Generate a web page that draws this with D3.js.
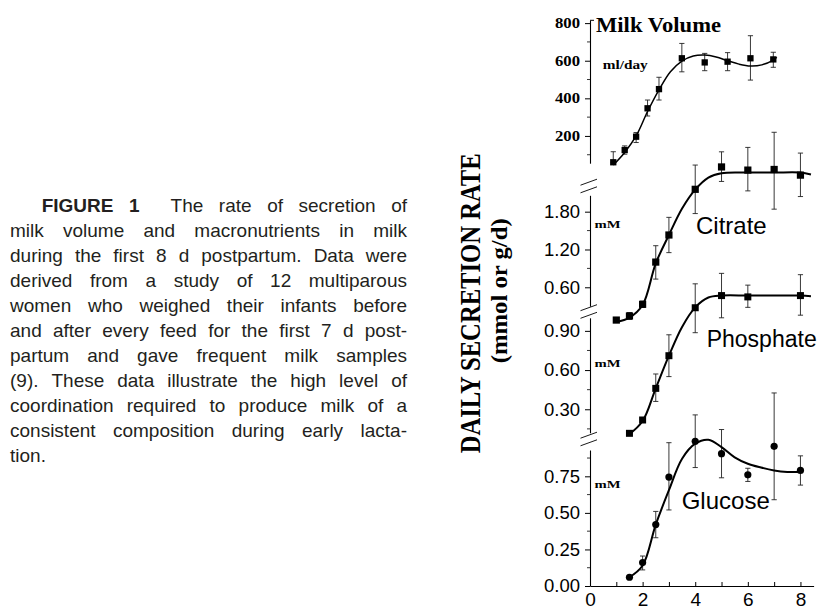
<!DOCTYPE html>
<html>
<head>
<meta charset="utf-8">
<script src="https://cdn.jsdelivr.net/npm/d3@7"></script>
<style>
  body { margin: 0; background: #fff; }
  svg { display: block; }
</style>
</head>
<body>
<svg id="chart" width="817" height="610"></svg>
<script>
// ---- data (day postpartum vs secretion) ----
var milkDays = [1, 1.5, 2, 2.5, 3, 4, 5, 6, 7, 8];
var milkVol  = [60, 125, 196, 347, 449, 613, 591, 595, 613, 607];
var milkLo   = [58, 103, 165, 306, 391, 541, 547, 547, 497, 565];
var milkHi   = [116, 147, 218, 391, 512, 692, 639, 643, 733, 645];
var milkFitX = [1, 1.5, 2, 2.5, 3, 3.5, 4, 4.5, 5, 5.5, 6, 6.5, 7, 7.5, 8, 8.15];
var milkFitY = [45, 112, 200, 330, 445, 541, 598, 625, 630, 620, 600, 582, 572, 578, 603, 618];

var citDays = [1, 1.5, 2, 2.5, 3, 4, 5, 6, 7, 8];
var citVal  = [0.08, 0.145, 0.33, 1.0, 1.43, 2.155, 2.51, 2.46, 2.47, 2.38];
var citLo   = [0.08, 0.09, 0.28, 0.73, 1.15, 1.77, 2.28, 2.13, 1.84, 2.04];
var citHi   = [0.08, 0.2, 0.38, 1.26, 1.71, 2.54, 2.75, 2.82, 3.06, 2.73];
var citFitX = [1, 1.5, 2, 2.5, 3, 3.5, 4, 4.5, 5, 6, 7, 8, 8.4];
var citFitY = [0.05, 0.12, 0.32, 0.98, 1.43, 1.85, 2.15, 2.34, 2.41, 2.42, 2.42, 2.42, 2.39];

var phoDays = [1.5, 2, 2.5, 3, 4, 5, 6, 8];
var phoVal  = [0.116, 0.218, 0.46, 0.71, 1.077, 1.17, 1.16, 1.17];
var phoLo   = [0.116, 0.218, 0.36, 0.55, 0.886, 1.0, 1.08, 1.02];
var phoHi   = [0.116, 0.218, 0.57, 0.87, 1.26, 1.34, 1.25, 1.33];
var phoFitX = [1.5, 2, 2.5, 3, 3.5, 4, 4.5, 5, 6, 7, 8, 8.4];
var phoFitY = [0.11, 0.21, 0.46, 0.71, 0.93, 1.08, 1.155, 1.17, 1.17, 1.17, 1.17, 1.165];

var gluDays = [1.5, 2, 2.5, 3, 4, 5, 6, 7, 8];
var gluVal  = [0.06, 0.16, 0.42, 0.745, 0.99, 0.905, 0.76, 0.955, 0.79];
var gluLo   = [0.06, 0.11, 0.33, 0.52, 0.81, 0.74, 0.715, 0.59, 0.69];
var gluHi   = [0.06, 0.205, 0.51, 0.98, 1.17, 1.07, 0.805, 1.32, 0.89];
var gluFitX = [1.5, 2, 2.5, 3, 3.5, 4, 4.5, 5, 5.5, 6, 6.5, 7, 7.5, 8];
var gluFitY = [0.06, 0.14, 0.42, 0.655, 0.87, 0.973, 1.0, 0.95, 0.88, 0.836, 0.81, 0.79, 0.78, 0.78];

// tick labels
var dayTicks   = [0, 1, 2, 3, 4, 5, 6, 7, 8];
var milkTicks  = [200, 400, 600, 800];
var milkMinor  = [100, 300, 500, 700];
var citTicks   = [0.6, 1.2, 1.8];
var citMinor   = [0.9, 1.5];
var phoTicks   = [0.3, 0.6, 0.9];
var phoMinor   = [0.15, 0.45, 0.75];
var gluTicks   = [0, 0.25, 0.5, 0.75];
var gluMinor   = [0.125, 0.375, 0.625, 0.875];

var captionLines = [
  "*FIGURE *1 The rate of secretion of",
  "milk volume and macronutrients in milk",
  "during the first 8 d postpartum. Data were",
  "derived from a study of 12 multiparous",
  "women who weighed their infants before",
  "and after every feed for the first 7 d post-",
  "partum and gave frequent milk samples",
  "(9). These data illustrate the high level of",
  "coordination required to produce milk of a",
  "consistent composition during early lacta-",
  "tion."
];

var serif = "'Liberation Serif','Times New Roman',serif";
var sans = "'Liberation Sans',Arial,Helvetica,sans-serif";

var svg = d3.select("#chart");

// ---- scales ----
var x = d3.scaleLinear().domain([0, 8.5]).range([590, 813.6]);
var xMilk = d3.scaleLinear().domain([0, 8]).range([590.4, 773.3]); // the volume panel is drawn narrower
var yMilk = d3.scaleLinear().domain([55, 815]).range([163.2, 20.3]);
var yCit = d3.scaleLinear().domain([0.3, 2.06]).range([306.2, 195.3]);
var yPho = d3.scaleLinear().domain([0.12, 1.0]).range([432.8, 317.8]);
var yGlu = d3.scaleLinear().domain([0, 0.93]).range([586, 450]);

// ---- caption (justified) ----
var cap = svg.append("g").attr("font-family", sans).attr("font-size", 19).attr("fill", "#231f20");
captionLines.forEach(function(line, i) {
  var x0 = i == 0 ? 41.7 : 10, x1 = 407;
  var words = line.split(" ");
  var t = cap.append("text").attr("y", 212 + i * 25);
  var spans = words.map(function(w) {
    var bold = w.charAt(0) == "*";
    return t.append("tspan").attr("font-weight", bold ? "bold" : null).text(bold ? w.slice(1) : w);
  });
  var widths = spans.map(function(s) { return s.node().getComputedTextLength(); });
  var weights = words.slice(1).map(function(w, j) { return j == 1 && i == 0 ? 2 : 1; });
  var last = i == captionLines.length - 1;
  var gap = last ? 5.3 : (x1 - x0 - d3.sum(widths)) / d3.sum(weights);
  var cx = x0;
  spans.forEach(function(s, j) {
    s.attr("x", cx);
    cx += widths[j] + (j < weights.length ? gap * weights[j] : 0);
  });
});

// ---- y title ----
svg.append("text")
  .attr("transform", "translate(479.5,303.3) rotate(-90)")
  .attr("text-anchor", "middle")
  .attr("font-family", serif).attr("font-weight", "bold").attr("font-size", 29)
  .attr("textLength", 300).attr("lengthAdjust", "spacingAndGlyphs")
  .text("DAILY SECRETION RATE");
svg.append("text")
  .attr("transform", "translate(507,290.8) rotate(-90)")
  .attr("text-anchor", "middle")
  .attr("font-family", serif).attr("font-weight", "bold").attr("font-size", 23)
  .attr("textLength", 145).attr("lengthAdjust", "spacingAndGlyphs")
  .text("(mmol or g/d)");

// ---- axes ----
function yAxis(scale, major, minor, fmt, font, size, bold) {
  var g = svg.append("g").attr("transform", "translate(590,0)");
  g.call(d3.axisLeft(scale).tickValues(major).tickFormat(fmt)
    .tickSizeInner(5).tickSizeOuter(0).tickPadding(5));
  g.attr("font-family", font).attr("font-size", size).attr("font-weight", bold ? "bold" : null);
  g.select(".domain").attr("stroke", "#000").attr("stroke-width", 1.1);
  g.selectAll(".tick line").attr("stroke", "#000");
  g.selectAll(".tick text").attr("fill", "#000");
  g.selectAll(".minor").data(minor).enter().append("line")
    .attr("x1", 0).attr("x2", -3)
    .attr("y1", function(d) { return scale(d); }).attr("y2", function(d) { return scale(d); })
    .attr("stroke", "#000").attr("stroke-width", 0.8);
  return g;
}

var gm = yAxis(yMilk, milkTicks, milkMinor, d3.format("d"), serif, 14, true);
gm.selectAll(".tick text").attr("textLength", 25).attr("lengthAdjust", "spacingAndGlyphs");
gm.append("line").attr("x1", 0).attr("x2", 4).attr("y1", yMilk(815)).attr("y2", yMilk(815)).attr("stroke", "#000");
yAxis(yCit, citTicks, citMinor, d3.format(".2f"), sans, 18.5, false);
yAxis(yPho, phoTicks, phoMinor, d3.format(".2f"), sans, 18.5, false);
yAxis(yGlu, gluTicks, gluMinor, d3.format(".2f"), sans, 18.5, false);

var gx = svg.append("g").attr("transform", "translate(0,586)");
gx.call(d3.axisBottom(x).tickValues(dayTicks)
  .tickFormat(function(d) { return d % 2 ? "" : d; })
  .tickSizeInner(-4).tickSizeOuter(0).tickPadding(7));
gx.attr("font-family", sans).attr("font-size", 19);
gx.select(".domain").attr("stroke", "#000").attr("stroke-width", 1.1);
gx.selectAll(".tick line").attr("stroke", "#000");
gx.selectAll(".tick text").attr("fill", "#000");

// axis breaks "//"
[186, 311.5, 439].forEach(function(cy) {
  [-3.8, 3.8].forEach(function(o) {
    svg.append("line")
      .attr("x1", 580.5).attr("y1", cy + o + 3)
      .attr("x2", 597).attr("y2", cy + o - 3)
      .attr("stroke", "#000").attr("stroke-width", 0.9);
  });
});

// ---- panels ----
function panel(xs, ys, days, vals, lo, hi, fitX, fitY, shape, size, lw) {
  var g = svg.append("g");
  var pts = days.map(function(d, i) { return { d: d, v: vals[i], lo: lo[i], hi: hi[i] }; });
  var fit = fitX.map(function(d, i) { return [d, fitY[i]]; });

  // error bars
  var eb = g.selectAll(".eb").data(pts.filter(function(p) { return p.hi > p.lo; })).enter().append("g");
  eb.append("line")
    .attr("x1", function(p) { return xs(p.d); }).attr("x2", function(p) { return xs(p.d); })
    .attr("y1", function(p) { return ys(p.lo); }).attr("y2", function(p) { return ys(p.hi); });
  eb.append("line")
    .attr("x1", function(p) { return xs(p.d) - 2.6; }).attr("x2", function(p) { return xs(p.d) + 2.6; })
    .attr("y1", function(p) { return ys(p.hi); }).attr("y2", function(p) { return ys(p.hi); });
  eb.append("line")
    .attr("x1", function(p) { return xs(p.d) - 2.6; }).attr("x2", function(p) { return xs(p.d) + 2.6; })
    .attr("y1", function(p) { return ys(p.lo); }).attr("y2", function(p) { return ys(p.lo); });
  eb.selectAll("line").attr("stroke", "#222").attr("stroke-width", 0.9);

  g.append("path")
    .datum(fit)
    .attr("d", d3.line().x(function(d) { return xs(d[0]); }).y(function(d) { return ys(d[1]); })
      .curve(d3.curveCatmullRom.alpha(0.5)))
    .attr("fill", "none").attr("stroke", "#000").attr("stroke-width", lw);

  if (shape == "circle") {
    g.selectAll(".pt").data(pts).enter().append("circle")
      .attr("cx", function(p) { return xs(p.d); })
      .attr("cy", function(p) { return ys(p.v); })
      .attr("r", size / 2).attr("fill", "#000");
  } else {
    g.selectAll(".pt").data(pts).enter().append("rect")
      .attr("x", function(p) { return xs(p.d) - size / 2; })
      .attr("y", function(p) { return ys(p.v) - size / 2; })
      .attr("width", size).attr("height", size).attr("fill", "#000");
  }
}

panel(xMilk, yMilk, milkDays, milkVol, milkLo, milkHi, milkFitX, milkFitY, "square", 6.3, 1.5);
panel(x, yCit, citDays, citVal, citLo, citHi, citFitX, citFitY, "square", 7.2, 2);
panel(x, yPho, phoDays, phoVal, phoLo, phoHi, phoFitX, phoFitY, "square", 7, 2);
panel(x, yGlu, gluDays, gluVal, gluLo, gluHi, gluFitX, gluFitY, "circle", 7.2, 2);

// ---- panel labels ----
svg.append("text").attr("x", 596).attr("y", 31.7)
  .attr("font-family", serif).attr("font-weight", "bold").attr("font-size", 21)
  .attr("textLength", 125).attr("lengthAdjust", "spacingAndGlyphs")
  .text("Milk Volume");
svg.append("text").attr("x", 602.7).attr("y", 69.3)
  .attr("font-family", serif).attr("font-weight", "bold").attr("font-size", 12.5)
  .attr("textLength", 45).attr("lengthAdjust", "spacingAndGlyphs")
  .text("ml/day");
[228, 366.7, 488.3].forEach(function(yy) {
  svg.append("text").attr("x", 594.5).attr("y", yy)
    .attr("font-family", serif).attr("font-weight", "bold").attr("font-size", 11)
    .attr("textLength", 26).attr("lengthAdjust", "spacingAndGlyphs")
    .text("mM");
});
var lab = svg.append("g").attr("font-family", sans).attr("font-size", 24).attr("fill", "#000");
lab.append("text").attr("x", 696).attr("y", 234).text("Citrate");
lab.append("text").attr("x", 706.7).attr("y", 346.7).attr("font-size", 23).text("Phosphate");
lab.append("text").attr("x", 681.7).attr("y", 509.3).text("Glucose");
</script>
</body>
</html>
